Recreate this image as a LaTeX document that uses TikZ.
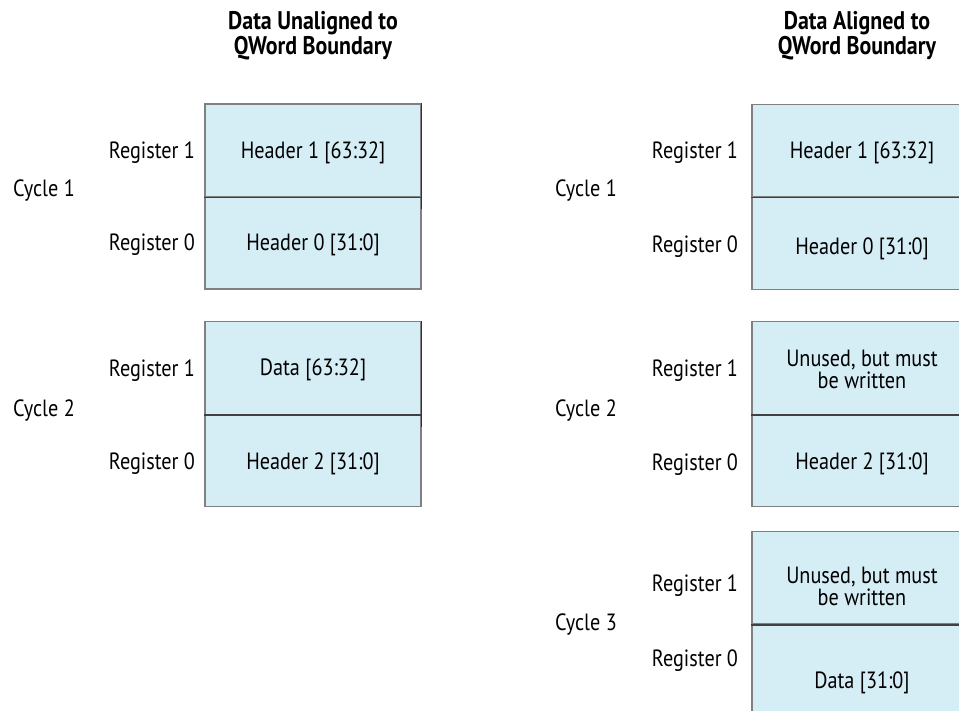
\documentclass[tikz,border=0pt]{standalone}
\usepackage{fontspec}
\setmainfont[FakeStretch=0.86]{PT Sans}
\begin{document}
\begin{tikzpicture}[x=1pt,y=-1pt,
  cellbox/.style={draw=black!50, fill=cellblue, line width=1.4pt, inner sep=0pt, minimum width=#1, minimum height=92.5pt},
  cellbox/.default=216pt,
  divider/.style={draw=black!75, line width=1.4pt},
  txt/.style={font=\fontsize{23.5}{22.5}\selectfont, inner sep=0pt, align=center, yshift=-2.5pt},
  head/.style={font=\fontsize{25.5}{23}\selectfont\bfseries, inner sep=0pt, align=center, yshift=-2pt}]
\definecolor{cellblue}{HTML}{D5EDF5}
\clip (0,0) rectangle (959,710);
\fill[white] (0,0) rectangle (959,710);

% headings
\node[head] (hl) at (313,33.5) {Data Unaligned to\\QWord Boundary};
\node[head] (hr) at (857,33.5) {Data Aligned to\\QWord Boundary};

% ---- unaligned layout (left) ----
\node[cellbox] (a1) at (313,150.25) {};
\node[cellbox] (a0) at (313,242.75) {};
\draw[divider] (a1.south west) -- (a1.south east);
\draw[black!80, line width=1.4pt] (a1.north east) -- ([yshift=-12pt]a1.south east);
\node[txt] (ta1) at (313,150) {Header 1 [63:32]};
\node[txt] (ta0) at (313,242) {Header 0 [31:0]};

\node[cellbox] (b1) at (313,368) {};
\node[cellbox] (b0) at (313,460.5) {};
\draw[divider] (b1.south west) -- (b1.south east);
\draw[black!80, line width=1.4pt] (b1.north east) -- ([yshift=-12pt]b1.south east);
\node[txt] (tb1) at (313,367) {Data [63:32]};
\node[txt] (tb0) at (313,461) {Header 2 [31:0]};

\node[txt] (ra1) at (152,150) {Register 1};
\node[txt] (ra0) at (152,242) {Register 0};
\node[txt] (ca)  at (44,188) {Cycle 1};
\node[txt] (rb1) at (152,368) {Register 1};
\node[txt] (rb0) at (152,461) {Register 0};
\node[txt] (cb)  at (44,408) {Cycle 2};

% ---- aligned layout (right) ----
\node[cellbox=220pt] (c1) at (862,150.5) {};
\node[cellbox=220pt] (c0) at (862,243.5) {};
\draw[divider] (c1.south west) -- (c1.south east);
\node[txt] (tc1) at (862,150) {Header 1 [63:32]};
\node[txt] (tc0) at (862,246) {Header 0 [31:0]};

\node[cellbox=220pt] (d1) at (862,368) {};
\node[cellbox=220pt] (d0) at (862,460.5) {};
\draw[divider] (d1.south west) -- (d1.south east);
\node[txt] (td1) at (862,367) {Unused, but must\\be written};
\node[txt] (td0) at (862,461) {Header 2 [31:0]};

\node[cellbox=220pt] (e1) at (862,578) {};
\node[cellbox=220pt] (e0) at (862,670) {};
\draw[divider] (e1.south west) -- (e1.south east);
\node[txt] (te1) at (862,584) {Unused, but must\\be written};
\node[txt] (te0) at (862,680) {Data [31:0]};

\node[txt] (rc1) at (695,150) {Register 1};
\node[txt] (rc0) at (695,244) {Register 0};
\node[txt] (cc)  at (586,188) {Cycle 1};
\node[txt] (rd1) at (695,368) {Register 1};
\node[txt] (rd0) at (695,462) {Register 0};
\node[txt] (cd)  at (586,408) {Cycle 2};
\node[txt] (re1) at (695,583) {Register 1};
\node[txt] (re0) at (695,658) {Register 0};
\node[txt] (ce)  at (586,622) {Cycle 3};
\end{tikzpicture}
\end{document}
